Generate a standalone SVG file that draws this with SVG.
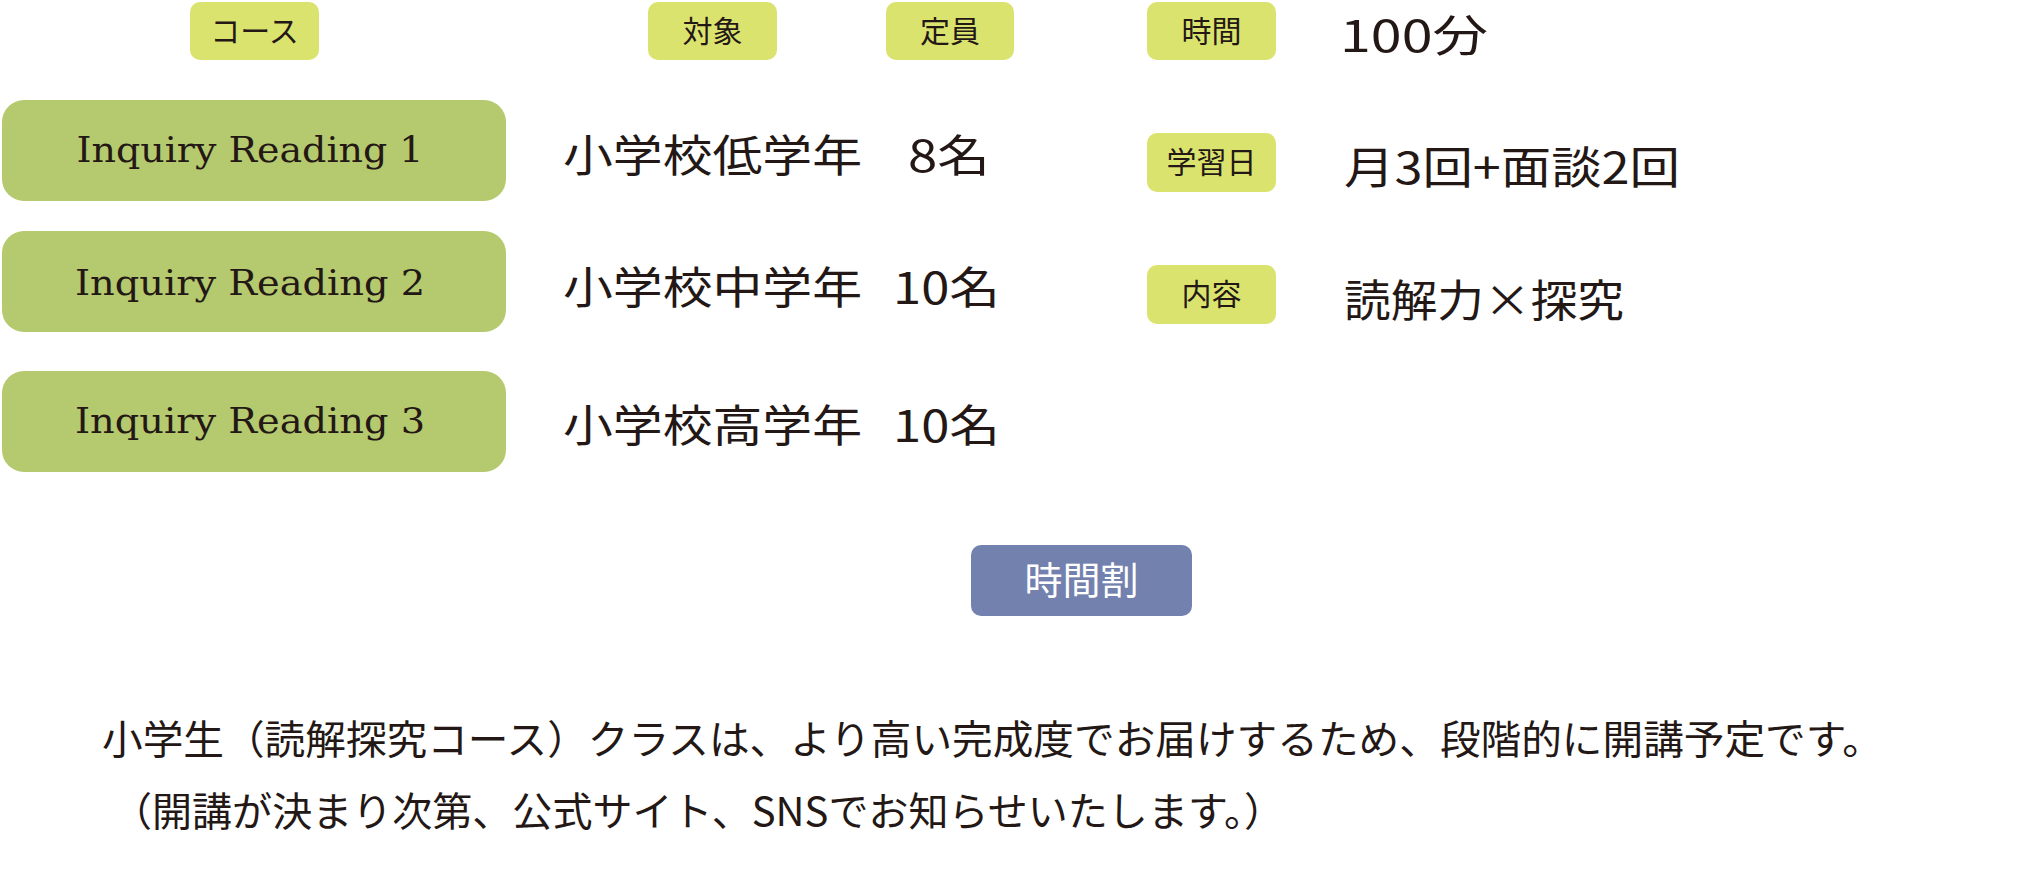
<svg xmlns="http://www.w3.org/2000/svg" width="2035" height="882" viewBox="0 0 2035 882">
<style>
.tag{fill:#dbe36f}
.box{fill:#b5c96e}
.t{font-family:"Noto Sans CJK JP","Noto Sans",sans-serif;fill:#231815}
.tg{font-size:30px;text-anchor:middle}
.v{font-size:44px}
.c{font-family:"DejaVu Serif","Liberation Serif",serif;font-size:36px;fill:#231815;text-anchor:middle}
.n{font-size:40px}
</style>
<rect width="2035" height="882" fill="#fff"/>
<g id="head-course"><rect class="tag" x="190" y="2" width="129" height="58" rx="10"/><text class="t tg" x="254.5" y="42">コース</text></g>
<g id="head-target"><rect class="tag" x="648" y="2" width="129" height="58" rx="10"/><text class="t tg" x="712.5" y="42">対象</text></g>
<g id="head-cap"><rect class="tag" x="886" y="2" width="128" height="58" rx="10"/><text class="t tg" x="950" y="42">定員</text></g>
<g id="head-time"><rect class="tag" x="1147" y="2" width="129" height="58" rx="10"/><text class="t tg" x="1211.5" y="42">時間</text></g>
<g id="head-day"><rect class="tag" x="1147" y="133" width="129" height="59" rx="10"/><text class="t tg" x="1211.5" y="173">学習日</text></g>
<g id="head-content"><rect class="tag" x="1147" y="265" width="129" height="59" rx="10"/><text class="t tg" x="1211.5" y="305">内容</text></g>
<g id="course1"><rect class="box" x="2" y="100" width="504" height="101" rx="22"/><text class="c" x="250" y="162" textLength="347" lengthAdjust="spacingAndGlyphs">Inquiry Reading 1</text></g>
<g id="course2"><rect class="box" x="2" y="231" width="504" height="101" rx="22"/><text class="c" x="250" y="295" textLength="350" lengthAdjust="spacingAndGlyphs">Inquiry Reading 2</text></g>
<g id="course3"><rect class="box" x="2" y="371" width="504" height="101" rx="22"/><text class="c" x="250" y="433" textLength="350" lengthAdjust="spacingAndGlyphs">Inquiry Reading 3</text></g>
<g id="values">
<text class="t v" x="563" y="172" textLength="299" lengthAdjust="spacingAndGlyphs">小学校低学年</text>
<text class="t v" x="908" y="172" textLength="82" lengthAdjust="spacingAndGlyphs">8名</text>
<text class="t v" x="563" y="304" textLength="299" lengthAdjust="spacingAndGlyphs">小学校中学年</text>
<text class="t v" x="893" y="304" textLength="107" lengthAdjust="spacingAndGlyphs">10名</text>
<text class="t v" x="563" y="442" textLength="299" lengthAdjust="spacingAndGlyphs">小学校高学年</text>
<text class="t v" x="893" y="442" textLength="107" lengthAdjust="spacingAndGlyphs">10名</text>
<text class="t v" x="1340" y="52" textLength="148" lengthAdjust="spacingAndGlyphs">100分</text>
<text class="t v" x="1344" y="184" textLength="336" lengthAdjust="spacingAndGlyphs">月3回+面談2回</text>
<text class="t v" x="1344" y="317" textLength="280" lengthAdjust="spacingAndGlyphs">読解力×探究</text>
</g>
<g id="timetable"><rect x="971" y="545" width="221" height="71" rx="10" fill="#7381ae"/><text class="t" x="1081.5" y="594" font-size="38" text-anchor="middle" fill="#fff" style="fill:#fff">時間割</text></g>
<g id="note">
<text class="t n" x="102" y="754" textLength="1781" lengthAdjust="spacingAndGlyphs">小学生（読解探究コース）クラスは、より高い完成度でお届けするため、段階的に開講予定です。</text>
<text class="t n" x="112" y="826" textLength="1172" lengthAdjust="spacingAndGlyphs">（開講が決まり次第、公式サイト、SNSでお知らせいたします。）</text>
</g>
</svg>
